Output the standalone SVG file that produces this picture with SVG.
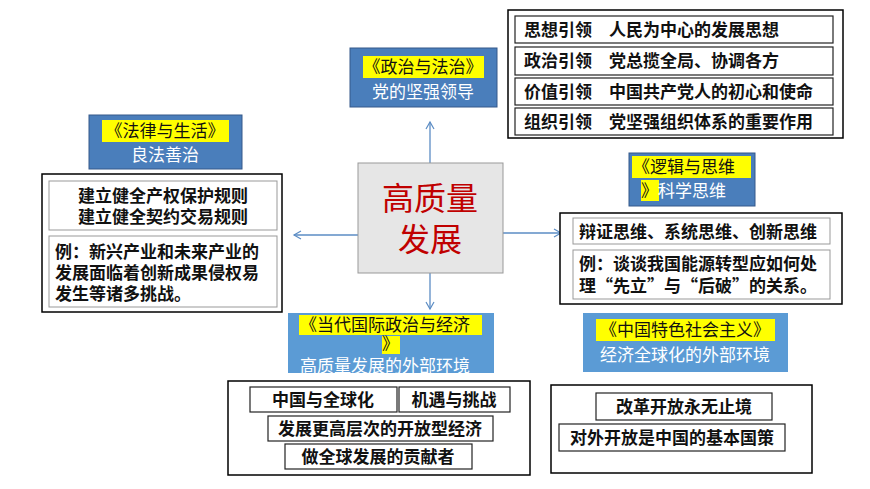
<svg xmlns="http://www.w3.org/2000/svg" width="870" height="489" viewBox="0 0 870 489">
<defs>
<marker id="ah" markerWidth="10" markerHeight="10" refX="8" refY="5" orient="auto" markerUnits="userSpaceOnUse"><path d="M1,1 L8,5 L1,9" fill="none" stroke="#5b8cc4" stroke-width="1.2"/></marker>
<clipPath id="cl"><rect x="288" y="313" width="206" height="60"/></clipPath>
</defs>
<style>
text{font-family:"Noto Sans CJK SC","Liberation Sans",sans-serif}
.bl{fill:#4a7ebb;stroke:#35598a;stroke-width:1}
.ot{fill:#fff;stroke:#000;stroke-width:1.5}
.in{fill:#fff;stroke:#999;stroke-width:1}
.ib{fill:#fff;stroke:#222;stroke-width:1.2}
.t{font-size:17px;font-weight:bold;fill:#111}
.w{font-size:17px;fill:#fff}
.y{font-size:17px;fill:#111}
.hl{fill:#ffff00}
.c{stroke:#5b8cc4;stroke-width:1.3;fill:none}
</style>
<rect width="870" height="489" fill="#fff"/>
<g id="connectors">
<line class="c" x1="430" y1="163" x2="430" y2="122" marker-end="url(#ah)"/>
<line class="c" x1="358" y1="235" x2="294" y2="235" marker-end="url(#ah)"/>
<line class="c" x1="503" y1="233" x2="561" y2="233" marker-end="url(#ah)"/>
<line class="c" x1="430" y1="273" x2="430" y2="309" marker-end="url(#ah)"/>
</g>
<g id="center">
<rect x="358" y="163" width="145" height="110" fill="#e6e6e6" stroke="#999"/>
<text x="430" y="210" text-anchor="middle" font-size="32" fill="#c00000">高质量</text>
<text x="430" y="251" text-anchor="middle" font-size="32" fill="#c00000">发展</text>
</g>
<g id="zzfz">
<rect class="bl" x="350" y="48" width="147" height="59"/>
<rect class="hl" x="363" y="56" width="121" height="22"/>
<text class="y" x="423" y="73" text-anchor="middle">《政治与法治》</text>
<text class="w" x="423" y="98" text-anchor="middle">党的坚强领导</text>
</g>
<g id="yinling">
<rect class="ot" x="508" y="10" width="335" height="128"/>
<rect class="ib" x="515" y="16" width="318" height="27"/>
<rect class="ib" x="515" y="47" width="318" height="28"/>
<rect class="ib" x="515" y="78" width="318" height="27"/>
<rect class="ib" x="515" y="108" width="318" height="27"/>
<text class="t" x="524" y="36">思想引领　人民为中心的发展思想</text>
<text class="t" x="524" y="67">政治引领　党总揽全局、协调各方</text>
<text class="t" x="524" y="98">价值引领　中国共产党人的初心和使命</text>
<text class="t" x="524" y="128">组织引领　党坚强组织体系的重要作用</text>
</g>
<g id="flsh">
<rect class="bl" x="89" y="115" width="153" height="54"/>
<rect class="hl" x="102" y="120" width="127" height="22"/>
<text class="y" x="165" y="137" text-anchor="middle">《法律与生活》</text>
<text class="w" x="165" y="161" text-anchor="middle">良法善治</text>
</g>
<g id="left">
<rect class="ot" x="42" y="174" width="240" height="138"/>
<rect class="in" x="49" y="181" width="228" height="49"/>
<rect class="in" x="49" y="236" width="228" height="71"/>
<text class="t" x="163" y="202" text-anchor="middle">建立健全产权保护规则</text>
<text class="t" x="163" y="223" text-anchor="middle">建立健全契约交易规则</text>
<text class="t" x="55" y="258">例：新兴产业和未来产业的</text>
<text class="t" x="55" y="279">发展面临着创新成果侵权易</text>
<text class="t" x="55" y="300">发生等诸多挑战。</text>
</g>
<g id="ljsw">
<rect class="bl" x="629" y="153" width="126" height="53"/>
<rect class="hl" x="632" y="156" width="119" height="22"/>
<rect class="hl" x="641" y="180" width="18" height="21"/>
<text class="y" x="633" y="173">《逻辑与思维</text>
<text class="y" x="641" y="197">》<tspan fill="#fff">科学思维</tspan></text>
</g>
<g id="right">
<rect class="ot" x="560" y="213" width="282" height="91"/>
<rect class="in" x="573" y="218" width="257" height="26"/>
<rect class="in" x="573" y="250" width="257" height="49"/>
<text class="t" x="579" y="238">辩证思维、系统思维、创新思维</text>
<text class="t" x="579" y="270">例：谈谈我国能源转型应如何处</text>
<text class="t" x="579" y="292">理“先立”与“后破”的关系。</text>
</g>
<g id="ddgj">
<rect x="288" y="313" width="206" height="60" fill="#5b9bd5"/>
<g clip-path="url(#cl)">
<rect class="hl" x="299" y="315" width="183" height="20"/>
<rect class="hl" x="382" y="336" width="18" height="18"/>
<text class="y" x="300" y="331" font-size="17">《当代国际政治与经济</text>
<text class="y" x="382" y="350">》</text>
<text class="w" x="300" y="372">高质量发展的外部环境</text>
</g>
</g>
<g id="zgts">
<rect x="583" y="313" width="205" height="59" fill="#5b9bd5"/>
<rect class="hl" x="596" y="319" width="179" height="22"/>
<text class="y" x="685" y="336" text-anchor="middle">《中国特色社会主义》</text>
<text class="w" x="685" y="361" text-anchor="middle">经济全球化的外部环境</text>
</g>
<g id="bl">
<rect class="ot" x="228" y="381" width="302" height="94"/>
<rect class="ib" x="250" y="387" width="147" height="25"/>
<rect class="ib" x="399" y="387" width="111" height="25"/>
<rect class="ib" x="268" y="416" width="225" height="25"/>
<rect class="ib" x="285" y="444" width="187" height="25"/>
<text class="t" x="323" y="406" text-anchor="middle">中国与全球化</text>
<text class="t" x="454" y="406" text-anchor="middle">机遇与挑战</text>
<text class="t" x="380" y="435" text-anchor="middle">发展更高层次的开放型经济</text>
<text class="t" x="378" y="463" text-anchor="middle">做全球发展的贡献者</text>
</g>
<g id="br">
<rect class="ot" x="551" y="385" width="261" height="88"/>
<rect class="ib" x="596" y="393" width="176" height="27"/>
<rect class="ib" x="559" y="424" width="226" height="27"/>
<text class="t" x="684" y="413" text-anchor="middle">改革开放永无止境</text>
<text class="t" x="672" y="444" text-anchor="middle">对外开放是中国的基本国策</text>
</g>
</svg>
